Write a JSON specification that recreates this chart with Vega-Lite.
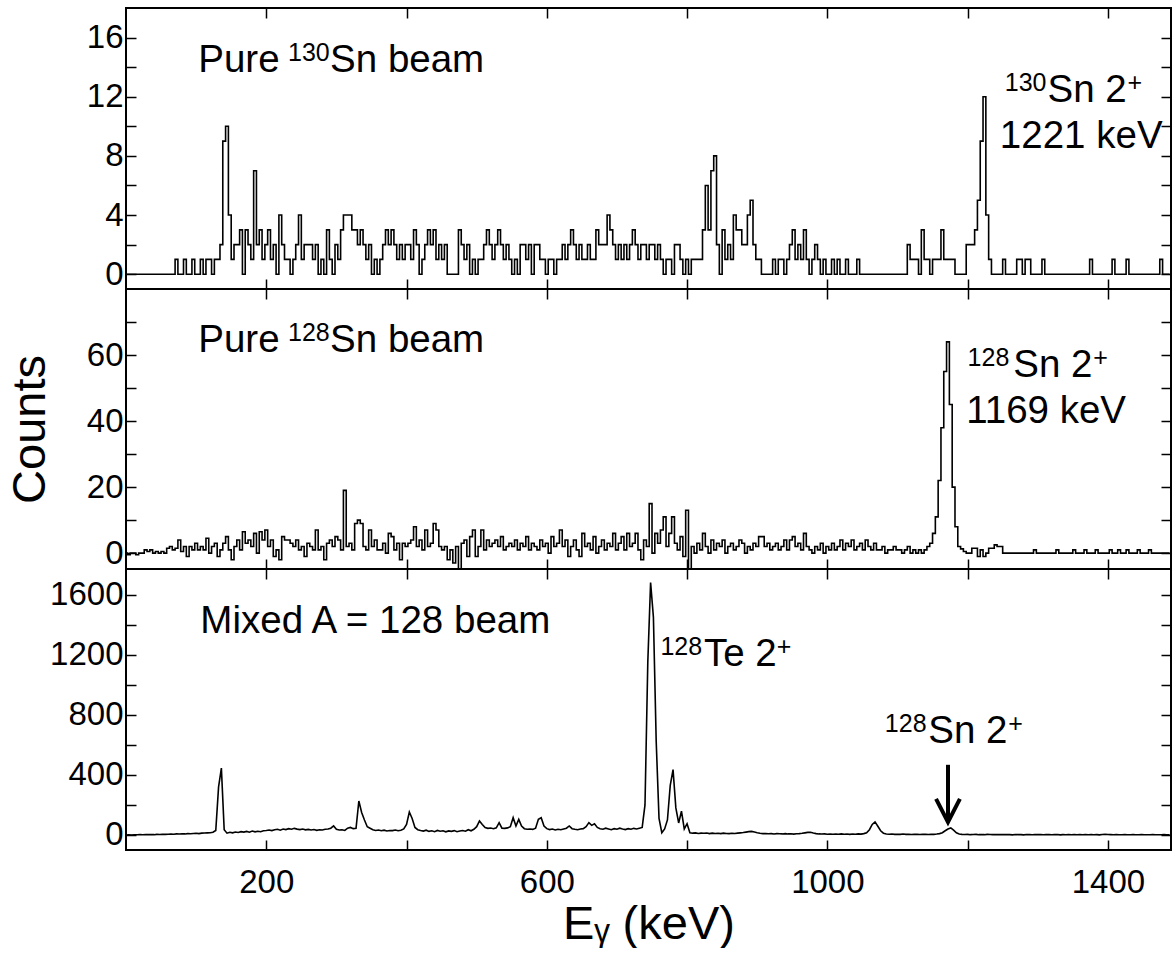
{
"$schema": "https://vega.github.io/schema/vega-lite/v6.json",
"background": "white",
"padding": {"left": 5, "top": 6, "right": 0, "bottom": 0},
"spacing": 0,
"bounds": "flush",
"config": {
  "view": {"stroke": "black", "strokeWidth": 2},
  "axis": {"domain": false, "grid": false, "tickColor": "black", "tickSize": -10, "tickWidth": 1.5,
           "labelFont": "Liberation Sans", "labelFontSize": 33, "labelColor": "black", "labelPadding": 9, "format": "d",
           "titleFont": "Liberation Sans", "titleFontSize": 47, "titleFontWeight": "normal", "titleColor": "black"},
  "axisY": {"labelPadding": 13},
  "text": {"font": "Liberation Sans", "color": "black", "align": "left", "baseline": "alphabetic"}
},
"datasets": {
"top": [
{"e":0,"c":0},{"e":4,"c":0},{"e":8,"c":0},{"e":12,"c":0},{"e":16,"c":0},{"e":20,"c":0},{"e":24,"c":0},{"e":28,"c":0},{"e":32,"c":0},{"e":36,"c":0},{"e":40,"c":0},{"e":44,"c":0},{"e":48,"c":0},{"e":52,"c":0},{"e":56,"c":0},{"e":60,"c":0},{"e":64,"c":0},{"e":68,"c":0},
{"e":72,"c":1},{"e":76,"c":0},{"e":80,"c":0},{"e":84,"c":1},{"e":88,"c":0},{"e":92,"c":0},{"e":96,"c":1},{"e":100,"c":0},{"e":104,"c":0},{"e":108,"c":1},{"e":112,"c":0},{"e":116,"c":1},{"e":120,"c":1},{"e":124,"c":0},{"e":128,"c":1},{"e":132,"c":1},{"e":136,"c":2},{"e":140,"c":9},{"e":144,"c":10},{"e":148,"c":4},{"e":152,"c":1},{"e":156,"c":2},{"e":160,"c":2},{"e":164,"c":3},{"e":168,"c":0},{"e":172,"c":3},{"e":176,"c":2},{"e":180,"c":1},{"e":184,"c":7},{"e":188,"c":2},{"e":192,"c":3},{"e":196,"c":1},{"e":200,"c":2},{"e":204,"c":3},{"e":208,"c":1},{"e":212,"c":2},{"e":216,"c":0},{"e":220,"c":4},{"e":224,"c":2},{"e":228,"c":1},{"e":232,"c":1},{"e":236,"c":0},{"e":240,"c":1},{"e":244,"c":2},{"e":248,"c":4},{"e":252,"c":1},{"e":256,"c":2},{"e":260,"c":2},{"e":264,"c":2},{"e":268,"c":1},{"e":272,"c":2},{"e":276,"c":0},{"e":280,"c":1},{"e":284,"c":0},{"e":288,"c":3},{"e":292,"c":1},{"e":296,"c":0},{"e":300,"c":2},{"e":304,"c":1},{"e":308,"c":3},{"e":312,"c":4},{"e":316,"c":4},{"e":320,"c":4},{"e":324,"c":3},{"e":328,"c":3},{"e":332,"c":2},{"e":336,"c":3},{"e":340,"c":2},{"e":344,"c":1},{"e":348,"c":2},{"e":352,"c":0},{"e":356,"c":1},{"e":360,"c":0},{"e":364,"c":1},{"e":368,"c":2},{"e":372,"c":3},{"e":376,"c":2},{"e":380,"c":3},{"e":384,"c":2},{"e":388,"c":1},{"e":392,"c":2},{"e":396,"c":1},{"e":400,"c":2},{"e":404,"c":2},{"e":408,"c":1},{"e":412,"c":3},{"e":416,"c":2},{"e":420,"c":0},{"e":424,"c":1},{"e":428,"c":2},{"e":432,"c":3},{"e":436,"c":2},{"e":440,"c":3},{"e":444,"c":1},{"e":448,"c":2},{"e":452,"c":1},{"e":456,"c":2},{"e":460,"c":0},{"e":464,"c":0},{"e":468,"c":0},{"e":472,"c":0},{"e":476,"c":3},{"e":480,"c":2},{"e":484,"c":1},{"e":488,"c":2},{"e":492,"c":0},{"e":496,"c":1},{"e":500,"c":0},{"e":504,"c":1},{"e":508,"c":1},{"e":512,"c":2},{"e":516,"c":3},{"e":520,"c":2},{"e":524,"c":1},{"e":528,"c":2},{"e":532,"c":3},{"e":536,"c":2},{"e":540,"c":1},{"e":544,"c":2},{"e":548,"c":1},{"e":552,"c":0},{"e":556,"c":1},{"e":560,"c":0},{"e":564,"c":2},{"e":568,"c":2},{"e":572,"c":1},{"e":576,"c":2},{"e":580,"c":0},{"e":584,"c":2},{"e":588,"c":2},{"e":592,"c":1},{"e":596,"c":1},{"e":600,"c":0},{"e":604,"c":1},{"e":608,"c":1},{"e":612,"c":0},{"e":616,"c":1},{"e":620,"c":1},{"e":624,"c":2},{"e":628,"c":1},{"e":632,"c":2},{"e":636,"c":3},{"e":640,"c":2},{"e":644,"c":1},{"e":648,"c":2},{"e":652,"c":1},{"e":656,"c":1},{"e":660,"c":2},{"e":664,"c":1},{"e":668,"c":1},{"e":672,"c":3},{"e":676,"c":2},{"e":680,"c":2},{"e":684,"c":2},{"e":688,"c":4},{"e":692,"c":3},{"e":696,"c":2},{"e":700,"c":1},{"e":704,"c":2},{"e":708,"c":1},{"e":712,"c":2},{"e":716,"c":1},{"e":720,"c":2},{"e":724,"c":3},{"e":728,"c":2},{"e":732,"c":1},{"e":736,"c":2},{"e":740,"c":2},{"e":744,"c":1},{"e":748,"c":2},{"e":752,"c":2},{"e":756,"c":1},{"e":760,"c":2},{"e":764,"c":1},{"e":768,"c":0},{"e":772,"c":1},{"e":776,"c":1},{"e":780,"c":0},{"e":784,"c":2},{"e":788,"c":2},{"e":792,"c":1},{"e":796,"c":0},{"e":800,"c":1},{"e":804,"c":0},{"e":808,"c":1},{"e":812,"c":1},{"e":816,"c":1},{"e":820,"c":1},{"e":824,"c":3},{"e":828,"c":6},{"e":832,"c":3},{"e":836,"c":7},{"e":840,"c":8},{"e":844,"c":2},{"e":848,"c":0},{"e":852,"c":3},{"e":856,"c":1},{"e":860,"c":2},{"e":864,"c":1},{"e":868,"c":4},{"e":872,"c":3},{"e":876,"c":3},{"e":880,"c":2},{"e":884,"c":2},{"e":888,"c":4},{"e":892,"c":5},{"e":896,"c":2},{"e":900,"c":1},{"e":904,"c":1},{"e":908,"c":0},{"e":912,"c":0},{"e":916,"c":0},{"e":920,"c":0},{"e":924,"c":1},{"e":928,"c":0},{"e":932,"c":1},{"e":936,"c":1},{"e":940,"c":0},{"e":944,"c":1},{"e":948,"c":2},{"e":952,"c":3},{"e":956,"c":1},{"e":960,"c":2},{"e":964,"c":1},{"e":968,"c":3},{"e":972,"c":1},{"e":976,"c":0},{"e":980,"c":1},{"e":984,"c":2},{"e":988,"c":1},{"e":992,"c":0},{"e":996,"c":1},{"e":1000,"c":0},{"e":1004,"c":0},{"e":1008,"c":1},{"e":1012,"c":0},{"e":1016,"c":1},{"e":1020,"c":0},{"e":1024,"c":0},{"e":1028,"c":1},{"e":1032,"c":0},{"e":1036,"c":0},{"e":1040,"c":0},{"e":1044,"c":1},{"e":1048,"c":0},{"e":1052,"c":0},{"e":1056,"c":0},{"e":1060,"c":0},{"e":1064,"c":0},{"e":1068,"c":0},{"e":1072,"c":0},{"e":1076,"c":0},{"e":1080,"c":0},{"e":1084,"c":0},{"e":1088,"c":0},{"e":1092,"c":0},{"e":1096,"c":0},{"e":1100,"c":0},{"e":1104,"c":0},{"e":1108,"c":0},{"e":1112,"c":0},{"e":1116,"c":2},{"e":1120,"c":1},{"e":1124,"c":1},{"e":1128,"c":1},{"e":1132,"c":0},{"e":1136,"c":3},{"e":1140,"c":1},{"e":1144,"c":1},{"e":1148,"c":0},{"e":1152,"c":1},{"e":1156,"c":1},{"e":1160,"c":1},{"e":1164,"c":3},{"e":1168,"c":1},{"e":1172,"c":1},{"e":1176,"c":1},{"e":1180,"c":1},{"e":1184,"c":0},{"e":1188,"c":0},{"e":1192,"c":0},{"e":1196,"c":0},{"e":1200,"c":2},{"e":1204,"c":2},{"e":1208,"c":2},{"e":1212,"c":3},{"e":1216,"c":5},{"e":1220,"c":9},{"e":1224,"c":12},{"e":1228,"c":4},{"e":1232,"c":1},{"e":1236,"c":0},{"e":1240,"c":0},{"e":1244,"c":0},{"e":1248,"c":0},{"e":1252,"c":1},{"e":1256,"c":0},{"e":1260,"c":0},{"e":1264,"c":0},{"e":1268,"c":0},{"e":1272,"c":1},{"e":1276,"c":1},{"e":1280,"c":0},{"e":1284,"c":1},{"e":1288,"c":1},{"e":1292,"c":0},{"e":1296,"c":0},{"e":1300,"c":0},{"e":1304,"c":0},{"e":1308,"c":1},{"e":1312,"c":0},{"e":1316,"c":0},{"e":1320,"c":0},{"e":1324,"c":0},{"e":1328,"c":0},{"e":1332,"c":0},{"e":1336,"c":0},{"e":1340,"c":0},{"e":1344,"c":0},{"e":1348,"c":0},{"e":1352,"c":0},{"e":1356,"c":0},{"e":1360,"c":0},{"e":1364,"c":0},{"e":1368,"c":0},{"e":1372,"c":0},{"e":1376,"c":1},{"e":1380,"c":0},{"e":1384,"c":0},{"e":1388,"c":0},{"e":1392,"c":0},{"e":1396,"c":0},{"e":1400,"c":0},{"e":1404,"c":0},{"e":1408,"c":1},{"e":1412,"c":0},{"e":1416,"c":0},{"e":1420,"c":0},{"e":1424,"c":0},{"e":1428,"c":1},{"e":1432,"c":0},{"e":1436,"c":0},{"e":1440,"c":0},{"e":1444,"c":0},{"e":1448,"c":0},{"e":1452,"c":0},{"e":1456,"c":0},{"e":1460,"c":0},{"e":1464,"c":0},{"e":1468,"c":0},{"e":1472,"c":0},{"e":1476,"c":1},{"e":1480,"c":0},{"e":1484,"c":0},{"e":1488,"c":0}
],
"mid": [
{"e":0,"c":0},{"e":4,"c":-0.5},{"e":8,"c":0},{"e":12,"c":0},{"e":16,"c":-0.5},{"e":20,"c":0},{"e":24,"c":0},{"e":28,"c":1},{"e":32,"c":0.5},{"e":36,"c":1},{"e":40,"c":0},{"e":44,"c":0.5},{"e":48,"c":0},{"e":52,"c":0.5},{"e":56,"c":0},{"e":60,"c":1.5},{"e":64,"c":2},{"e":68,"c":1},{"e":72,"c":1.5},{"e":76,"c":4},{"e":80,"c":0.5},{"e":84,"c":2},{"e":88,"c":-1},{"e":92,"c":2},{"e":96,"c":1},{"e":100,"c":3},{"e":104,"c":1},{"e":108,"c":2},{"e":112,"c":1},{"e":116,"c":4.5},{"e":120,"c":0},{"e":124,"c":2},{"e":128,"c":3},{"e":132,"c":-1},{"e":136,"c":1},{"e":140,"c":3},{"e":144,"c":5},{"e":148,"c":1},{"e":152,"c":-2},{"e":156,"c":2},{"e":160,"c":4},{"e":164,"c":1},{"e":168,"c":6.5},{"e":172,"c":3},{"e":176,"c":4},{"e":180,"c":2},{"e":184,"c":6},{"e":188,"c":0},{"e":192,"c":6.5},{"e":196,"c":4},{"e":200,"c":7},{"e":204,"c":2},{"e":208,"c":4},{"e":212,"c":-1},{"e":216,"c":1},{"e":220,"c":-2},{"e":224,"c":5},{"e":228,"c":4},{"e":232,"c":4},{"e":236,"c":3},{"e":240,"c":2},{"e":244,"c":4},{"e":248,"c":1},{"e":252,"c":2},{"e":256,"c":-1},{"e":260,"c":3},{"e":264,"c":2},{"e":268,"c":1},{"e":272,"c":7},{"e":276,"c":1},{"e":280,"c":2},{"e":284,"c":-2},{"e":288,"c":3},{"e":292,"c":4},{"e":296,"c":2},{"e":300,"c":5},{"e":304,"c":4},{"e":308,"c":1},{"e":312,"c":19},{"e":316,"c":2},{"e":320,"c":3},{"e":324,"c":1},{"e":328,"c":9},{"e":332,"c":10},{"e":336,"c":9},{"e":340,"c":2},{"e":344,"c":1},{"e":348,"c":7},{"e":352,"c":2},{"e":356,"c":4},{"e":360,"c":1},{"e":364,"c":1},{"e":368,"c":3},{"e":372,"c":0},{"e":376,"c":6},{"e":380,"c":5},{"e":384,"c":1},{"e":388,"c":3},{"e":392,"c":-2},{"e":396,"c":3},{"e":400,"c":2},{"e":404,"c":3},{"e":408,"c":4},{"e":412,"c":8},{"e":416,"c":2},{"e":420,"c":4},{"e":424,"c":1},{"e":428,"c":7},{"e":432,"c":2},{"e":436,"c":3},{"e":440,"c":9},{"e":444,"c":7},{"e":448,"c":2},{"e":452,"c":1},{"e":456,"c":2},{"e":460,"c":-2},{"e":464,"c":1},{"e":468,"c":-3},{"e":472,"c":2},{"e":476,"c":-4.8},{"e":480,"c":3},{"e":484,"c":4},{"e":488,"c":-1},{"e":492,"c":5},{"e":496,"c":7},{"e":500,"c":-1},{"e":504,"c":2},{"e":508,"c":7},{"e":512,"c":1},{"e":516,"c":4},{"e":520,"c":2},{"e":524,"c":3},{"e":528,"c":4},{"e":532,"c":2},{"e":536,"c":5},{"e":540,"c":1},{"e":544,"c":2},{"e":548,"c":3},{"e":552,"c":2},{"e":556,"c":4},{"e":560,"c":1},{"e":564,"c":3},{"e":568,"c":2},{"e":572,"c":5},{"e":576,"c":1},{"e":580,"c":3},{"e":584,"c":2},{"e":588,"c":1},{"e":592,"c":4},{"e":596,"c":2},{"e":600,"c":3},{"e":604,"c":0},{"e":608,"c":5},{"e":612,"c":2},{"e":616,"c":3},{"e":620,"c":7},{"e":624,"c":2},{"e":628,"c":4},{"e":632,"c":-1},{"e":636,"c":2},{"e":640,"c":4},{"e":644,"c":1},{"e":648,"c":-1},{"e":652,"c":6},{"e":656,"c":2},{"e":660,"c":3},{"e":664,"c":1},{"e":668,"c":5},{"e":672,"c":0},{"e":676,"c":2},{"e":680,"c":4},{"e":684,"c":1},{"e":688,"c":3},{"e":692,"c":2},{"e":696,"c":6},{"e":700,"c":1},{"e":704,"c":3},{"e":708,"c":5},{"e":712,"c":1},{"e":716,"c":6},{"e":720,"c":2},{"e":724,"c":3},{"e":728,"c":6},{"e":732,"c":1},{"e":736,"c":-2},{"e":740,"c":4},{"e":744,"c":2},{"e":748,"c":15},{"e":752,"c":0},{"e":756,"c":6},{"e":760,"c":3},{"e":764,"c":7},{"e":768,"c":11},{"e":772,"c":2},{"e":776,"c":6},{"e":780,"c":11},{"e":784,"c":3},{"e":788,"c":1},{"e":792,"c":5},{"e":796,"c":-1},{"e":800,"c":13},{"e":804,"c":-4.8},{"e":808,"c":2},{"e":812,"c":0},{"e":816,"c":3},{"e":820,"c":1},{"e":824,"c":6},{"e":828,"c":2},{"e":832,"c":0},{"e":836,"c":4},{"e":840,"c":1},{"e":844,"c":3},{"e":848,"c":2},{"e":852,"c":4},{"e":856,"c":0},{"e":860,"c":2},{"e":864,"c":3},{"e":868,"c":1},{"e":872,"c":2},{"e":876,"c":4},{"e":880,"c":3},{"e":884,"c":0},{"e":888,"c":2},{"e":892,"c":1},{"e":896,"c":3},{"e":900,"c":2},{"e":904,"c":5},{"e":908,"c":5},{"e":912,"c":2},{"e":916,"c":3},{"e":920,"c":1},{"e":924,"c":2},{"e":928,"c":3},{"e":932,"c":1},{"e":936,"c":2},{"e":940,"c":4},{"e":944,"c":1},{"e":948,"c":4},{"e":952,"c":5},{"e":956,"c":2},{"e":960,"c":3},{"e":964,"c":1},{"e":968,"c":6},{"e":972,"c":2},{"e":976,"c":1},{"e":980,"c":0},{"e":984,"c":2},{"e":988,"c":1},{"e":992,"c":3},{"e":996,"c":0},{"e":1000,"c":2},{"e":1004,"c":1},{"e":1008,"c":3},{"e":1012,"c":1},{"e":1016,"c":2},{"e":1020,"c":4},{"e":1024,"c":1},{"e":1028,"c":3},{"e":1032,"c":2},{"e":1036,"c":4},{"e":1040,"c":1},{"e":1044,"c":2},{"e":1048,"c":3},{"e":1052,"c":1},{"e":1056,"c":4},{"e":1060,"c":2},{"e":1064,"c":1},{"e":1068,"c":3},{"e":1072,"c":1},{"e":1076,"c":1},{"e":1080,"c":2},{"e":1084,"c":0},{"e":1088,"c":1},{"e":1092,"c":1},{"e":1096,"c":2},{"e":1100,"c":1},{"e":1104,"c":1},{"e":1108,"c":0},{"e":1112,"c":1},{"e":1116,"c":2},{"e":1120,"c":0},{"e":1124,"c":1},{"e":1128,"c":0},{"e":1132,"c":1},{"e":1136,"c":0},{"e":1140,"c":1},{"e":1144,"c":2},{"e":1148,"c":3},{"e":1152,"c":6},{"e":1156,"c":11},{"e":1160,"c":22},{"e":1164,"c":38},{"e":1168,"c":55},{"e":1172,"c":64},{"e":1176,"c":45},{"e":1180,"c":20},{"e":1184,"c":8},{"e":1188,"c":2},{"e":1192,"c":1.3},{"e":1196,"c":0.5},{"e":1200,"c":0},{"e":1204,"c":0},{"e":1208,"c":1.5},{"e":1212,"c":1.5},{"e":1216,"c":-1},{"e":1220,"c":1},{"e":1224,"c":-1},{"e":1228,"c":0},{"e":1232,"c":1.5},{"e":1236,"c":1.5},{"e":1240,"c":2.5},{"e":1244,"c":2},{"e":1248,"c":2},{"e":1252,"c":0},{"e":1256,"c":0},{"e":1260,"c":0},{"e":1264,"c":0},{"e":1268,"c":0},{"e":1272,"c":0},{"e":1276,"c":0},{"e":1280,"c":0},{"e":1284,"c":0},{"e":1288,"c":0},{"e":1292,"c":0},{"e":1296,"c":1},{"e":1300,"c":0},{"e":1304,"c":0},{"e":1308,"c":0},{"e":1312,"c":0},{"e":1316,"c":0},{"e":1320,"c":0},{"e":1324,"c":0},{"e":1328,"c":1},{"e":1332,"c":0},{"e":1336,"c":0},{"e":1340,"c":0},{"e":1344,"c":0},{"e":1348,"c":0},{"e":1352,"c":1},{"e":1356,"c":0},{"e":1360,"c":0},{"e":1364,"c":0},{"e":1368,"c":1},{"e":1372,"c":0},{"e":1376,"c":0},{"e":1380,"c":0},{"e":1384,"c":1},{"e":1388,"c":0},{"e":1392,"c":0},{"e":1396,"c":0},{"e":1400,"c":0},{"e":1404,"c":1},{"e":1408,"c":0},{"e":1412,"c":0},{"e":1416,"c":1},{"e":1420,"c":0},{"e":1424,"c":0},{"e":1428,"c":1},{"e":1432,"c":0},{"e":1436,"c":0},{"e":1440,"c":0},{"e":1444,"c":1},{"e":1448,"c":0},{"e":1452,"c":0},{"e":1456,"c":0},{"e":1460,"c":1},{"e":1464,"c":0},{"e":1468,"c":0},{"e":1472,"c":0},{"e":1476,"c":0},{"e":1480,"c":0},{"e":1484,"c":0},{"e":1488,"c":0}
],
"bot": [
{"e":0,"c":0},{"e":4,"c":1},{"e":8,"c":0},{"e":12,"c":1},{"e":16,"c":1},{"e":20,"c":2},{"e":24,"c":1},{"e":28,"c":2},{"e":32,"c":2},{"e":36,"c":3},{"e":40,"c":2},{"e":44,"c":4},{"e":48,"c":3},{"e":52,"c":5},{"e":56,"c":4},{"e":60,"c":5},{"e":64,"c":6},{"e":68,"c":5},{"e":72,"c":7},{"e":76,"c":6},{"e":80,"c":8},{"e":84,"c":7},{"e":88,"c":9},{"e":92,"c":8},{"e":96,"c":10},{"e":100,"c":11},{"e":104,"c":9},{"e":108,"c":12},{"e":112,"c":13},{"e":116,"c":14},{"e":120,"c":15},{"e":124,"c":18},{"e":128,"c":30},{"e":132,"c":320},{"e":136,"c":445},{"e":140,"c":35},{"e":144,"c":12},{"e":148,"c":18},{"e":152,"c":14},{"e":156,"c":20},{"e":160,"c":17},{"e":164,"c":22},{"e":168,"c":19},{"e":172,"c":24},{"e":176,"c":18},{"e":180,"c":26},{"e":184,"c":21},{"e":188,"c":25},{"e":192,"c":22},{"e":196,"c":28},{"e":200,"c":30},{"e":204,"c":33},{"e":208,"c":29},{"e":212,"c":35},{"e":216,"c":38},{"e":220,"c":32},{"e":224,"c":40},{"e":228,"c":36},{"e":232,"c":42},{"e":236,"c":38},{"e":240,"c":44},{"e":244,"c":39},{"e":248,"c":36},{"e":252,"c":40},{"e":256,"c":34},{"e":260,"c":37},{"e":264,"c":33},{"e":268,"c":36},{"e":272,"c":31},{"e":276,"c":35},{"e":280,"c":33},{"e":284,"c":38},{"e":288,"c":40},{"e":292,"c":45},{"e":296,"c":60},{"e":300,"c":38},{"e":304,"c":33},{"e":308,"c":35},{"e":312,"c":30},{"e":316,"c":45},{"e":320,"c":50},{"e":324,"c":42},{"e":328,"c":45},{"e":332,"c":226},{"e":336,"c":150},{"e":340,"c":100},{"e":344,"c":55},{"e":348,"c":45},{"e":352,"c":35},{"e":356,"c":30},{"e":360,"c":33},{"e":364,"c":28},{"e":368,"c":32},{"e":372,"c":27},{"e":376,"c":30},{"e":380,"c":29},{"e":384,"c":33},{"e":388,"c":28},{"e":392,"c":31},{"e":396,"c":40},{"e":400,"c":70},{"e":404,"c":153},{"e":408,"c":110},{"e":412,"c":50},{"e":416,"c":35},{"e":420,"c":30},{"e":424,"c":26},{"e":428,"c":32},{"e":432,"c":24},{"e":436,"c":28},{"e":440,"c":22},{"e":444,"c":30},{"e":448,"c":25},{"e":452,"c":28},{"e":456,"c":21},{"e":460,"c":27},{"e":464,"c":24},{"e":468,"c":29},{"e":472,"c":22},{"e":476,"c":26},{"e":480,"c":30},{"e":484,"c":25},{"e":488,"c":35},{"e":492,"c":28},{"e":496,"c":38},{"e":500,"c":55},{"e":504,"c":93},{"e":508,"c":70},{"e":512,"c":49},{"e":516,"c":44},{"e":520,"c":46},{"e":524,"c":42},{"e":528,"c":48},{"e":532,"c":82},{"e":536,"c":45},{"e":540,"c":44},{"e":544,"c":47},{"e":548,"c":55},{"e":552,"c":115},{"e":556,"c":60},{"e":560,"c":104},{"e":564,"c":60},{"e":568,"c":42},{"e":572,"c":38},{"e":576,"c":40},{"e":580,"c":37},{"e":584,"c":45},{"e":588,"c":104},{"e":592,"c":115},{"e":596,"c":60},{"e":600,"c":42},{"e":604,"c":36},{"e":608,"c":40},{"e":612,"c":33},{"e":616,"c":38},{"e":620,"c":35},{"e":624,"c":40},{"e":628,"c":45},{"e":632,"c":60},{"e":636,"c":42},{"e":640,"c":38},{"e":644,"c":35},{"e":648,"c":40},{"e":652,"c":42},{"e":656,"c":55},{"e":660,"c":82},{"e":664,"c":64},{"e":668,"c":75},{"e":672,"c":50},{"e":676,"c":42},{"e":680,"c":38},{"e":684,"c":45},{"e":688,"c":40},{"e":692,"c":35},{"e":696,"c":42},{"e":700,"c":38},{"e":704,"c":45},{"e":708,"c":40},{"e":712,"c":36},{"e":716,"c":42},{"e":720,"c":38},{"e":724,"c":44},{"e":728,"c":40},{"e":732,"c":45},{"e":736,"c":50},{"e":740,"c":200},{"e":744,"c":1150},{"e":748,"c":1680},{"e":752,"c":1450},{"e":756,"c":620},{"e":760,"c":110},{"e":764,"c":15},{"e":768,"c":40},{"e":772,"c":100},{"e":776,"c":330},{"e":780,"c":435},{"e":784,"c":180},{"e":788,"c":80},{"e":792,"c":158},{"e":796,"c":40},{"e":800,"c":75},{"e":804,"c":15},{"e":808,"c":12},{"e":812,"c":14},{"e":816,"c":10},{"e":820,"c":12},{"e":824,"c":11},{"e":828,"c":13},{"e":832,"c":9},{"e":836,"c":12},{"e":840,"c":10},{"e":844,"c":11},{"e":848,"c":9},{"e":852,"c":12},{"e":856,"c":10},{"e":860,"c":9},{"e":864,"c":11},{"e":868,"c":10},{"e":872,"c":12},{"e":876,"c":14},{"e":880,"c":16},{"e":884,"c":19},{"e":888,"c":22},{"e":892,"c":24},{"e":896,"c":20},{"e":900,"c":15},{"e":904,"c":11},{"e":908,"c":9},{"e":912,"c":10},{"e":916,"c":8},{"e":920,"c":9},{"e":924,"c":7},{"e":928,"c":9},{"e":932,"c":8},{"e":936,"c":7},{"e":940,"c":9},{"e":944,"c":7},{"e":948,"c":8},{"e":952,"c":6},{"e":956,"c":8},{"e":960,"c":9},{"e":964,"c":11},{"e":968,"c":14},{"e":972,"c":17},{"e":976,"c":18},{"e":980,"c":13},{"e":984,"c":9},{"e":988,"c":7},{"e":992,"c":6},{"e":996,"c":7},{"e":1000,"c":5},{"e":1004,"c":6},{"e":1008,"c":5},{"e":1012,"c":6},{"e":1016,"c":5},{"e":1020,"c":7},{"e":1024,"c":5},{"e":1028,"c":6},{"e":1032,"c":4},{"e":1036,"c":6},{"e":1040,"c":5},{"e":1044,"c":7},{"e":1048,"c":6},{"e":1052,"c":9},{"e":1056,"c":15},{"e":1060,"c":35},{"e":1064,"c":70},{"e":1068,"c":87},{"e":1072,"c":58},{"e":1076,"c":28},{"e":1080,"c":12},{"e":1084,"c":7},{"e":1088,"c":5},{"e":1092,"c":6},{"e":1096,"c":4},{"e":1100,"c":5},{"e":1104,"c":4},{"e":1108,"c":6},{"e":1112,"c":4},{"e":1116,"c":5},{"e":1120,"c":3},{"e":1124,"c":5},{"e":1128,"c":4},{"e":1132,"c":3},{"e":1136,"c":5},{"e":1140,"c":4},{"e":1144,"c":3},{"e":1148,"c":5},{"e":1152,"c":4},{"e":1156,"c":6},{"e":1160,"c":9},{"e":1164,"c":15},{"e":1168,"c":28},{"e":1172,"c":40},{"e":1176,"c":47},{"e":1180,"c":32},{"e":1184,"c":15},{"e":1188,"c":7},{"e":1192,"c":4},{"e":1196,"c":3},{"e":1200,"c":4},{"e":1204,"c":2},{"e":1208,"c":3},{"e":1212,"c":4},{"e":1216,"c":2},{"e":1220,"c":3},{"e":1224,"c":2},{"e":1228,"c":4},{"e":1232,"c":3},{"e":1236,"c":2},{"e":1240,"c":3},{"e":1244,"c":2},{"e":1248,"c":3},{"e":1252,"c":2},{"e":1256,"c":3},{"e":1260,"c":2},{"e":1264,"c":1},{"e":1268,"c":3},{"e":1272,"c":2},{"e":1276,"c":2},{"e":1280,"c":1},{"e":1284,"c":3},{"e":1288,"c":2},{"e":1292,"c":1},{"e":1296,"c":2},{"e":1300,"c":3},{"e":1304,"c":2},{"e":1308,"c":1},{"e":1312,"c":2},{"e":1316,"c":2},{"e":1320,"c":1},{"e":1324,"c":2},{"e":1328,"c":3},{"e":1332,"c":1},{"e":1336,"c":2},{"e":1340,"c":1},{"e":1344,"c":2},{"e":1348,"c":1},{"e":1352,"c":2},{"e":1356,"c":1},{"e":1360,"c":2},{"e":1364,"c":1},{"e":1368,"c":2},{"e":1372,"c":1},{"e":1376,"c":2},{"e":1380,"c":1},{"e":1384,"c":2},{"e":1388,"c":1},{"e":1392,"c":3},{"e":1396,"c":4},{"e":1400,"c":3},{"e":1404,"c":2},{"e":1408,"c":1},{"e":1412,"c":2},{"e":1416,"c":1},{"e":1420,"c":1},{"e":1424,"c":2},{"e":1428,"c":1},{"e":1432,"c":1},{"e":1436,"c":2},{"e":1440,"c":1},{"e":1444,"c":1},{"e":1448,"c":2},{"e":1452,"c":1},{"e":1456,"c":1},{"e":1460,"c":1},{"e":1464,"c":2},{"e":1468,"c":1},{"e":1472,"c":1},{"e":1476,"c":1},{"e":1480,"c":2},{"e":1484,"c":1},{"e":1488,"c":1}
]
},
"vconcat": [
{
  "width": 1045, "height": 281,
  "layer": [
    {"data": {"name": "top"},
     "mark": {"type": "line", "interpolate": "step", "color": "black", "strokeWidth": 1.6, "clip": true},
     "encoding": {
       "x": {"field": "e", "type": "quantitative", "scale": {"domain": [0, 1490], "nice": false, "zero": false},
             "axis": {"orient": "bottom", "values": [200,400,600,800,1000,1200,1400], "labels": false, "title": null}},
       "y": {"field": "c", "type": "quantitative", "scale": {"domain": [-1, 18], "nice": false, "zero": false},
             "axis": {"values": [0,2,4,6,8,10,12,14,16], "labelExpr": "datum.value % 4 == 0 ? datum.label : ''", "title": null}}
     }},
    {"data": {"values": [{"t":"Pure","x":103,"y":13.7},{"t":"Sn beam","x":291,"y":13.7},{"t":"Sn 2","x":1314,"y":11.66},{"t":"1221 keV","x":1246,"y":8.54}]},
     "mark": {"type": "text", "fontSize": 38.5},
     "encoding": {
       "x": {"field": "x", "type": "quantitative", "scale": {"domain": [0, 1490], "nice": false, "zero": false},
             "axis": {"orient": "top", "values": [200,400,600,800,1000,1200,1400], "labels": false, "title": null}},
       "y": {"field": "y", "type": "quantitative", "scale": {"domain": [-1, 18], "nice": false, "zero": false},
             "axis": {"orient": "right", "values": [0,2,4,6,8,10,12,14,16], "labels": false, "title": null}},
       "text": {"field": "t"}
     }},
    {"data": {"values": [{"t":"130","x":231,"y":14.45},{"t":"130","x":1253,"y":12.4},{"t":"+","x":1428,"y":12.4}]},
     "mark": {"type": "text", "fontSize": 25},
     "encoding": {
       "x": {"field": "x", "type": "quantitative", "axis": null},
       "y": {"field": "y", "type": "quantitative", "axis": null},
       "text": {"field": "t"}
     }}
  ],
  "resolve": {"axis": {"x": "independent", "y": "independent"}}
},
{
  "width": 1045, "height": 280,
  "layer": [
    {"data": {"name": "mid"},
     "mark": {"type": "line", "interpolate": "step", "color": "black", "strokeWidth": 1.6, "clip": true},
     "encoding": {
       "x": {"field": "e", "type": "quantitative", "scale": {"domain": [0, 1490], "nice": false, "zero": false},
             "axis": {"orient": "bottom", "values": [200,400,600,800,1000,1200,1400], "labels": false, "title": null}},
       "y": {"field": "c", "type": "quantitative", "scale": {"domain": [-4.8, 80], "nice": false, "zero": false},
             "axis": {"values": [0,10,20,30,40,50,60,70], "labelExpr": "datum.value % 20 == 0 ? datum.label : ''", "title": "Counts", "titlePadding": 32}}
     }},
    {"data": {"values": [{"t":"Pure","x":103,"y":61},{"t":"Sn beam","x":291,"y":61},{"t":"Sn 2","x":1265,"y":53.4},{"t":"1169 keV","x":1198,"y":39.5}]},
     "mark": {"type": "text", "fontSize": 38.5},
     "encoding": {
       "x": {"field": "x", "type": "quantitative", "scale": {"domain": [0, 1490], "nice": false, "zero": false},
             "axis": {"orient": "top", "values": [200,400,600,800,1000,1200,1400], "labels": false, "title": null}},
       "y": {"field": "y", "type": "quantitative", "scale": {"domain": [-4.8, 80], "nice": false, "zero": false},
             "axis": {"orient": "right", "values": [0,10,20,30,40,50,60,70], "labels": false, "title": null}},
       "text": {"field": "t"}
     }},
    {"data": {"values": [{"t":"128","x":231,"y":64.3},{"t":"128","x":1200,"y":56.8},{"t":"+","x":1379,"y":56.8}]},
     "mark": {"type": "text", "fontSize": 25},
     "encoding": {
       "x": {"field": "x", "type": "quantitative", "axis": null},
       "y": {"field": "y", "type": "quantitative", "axis": null},
       "text": {"field": "t"}
     }}
  ],
  "resolve": {"axis": {"x": "independent", "y": "independent"}}
},
{
  "width": 1045, "height": 281,
  "layer": [
    {"data": {"name": "bot"},
     "mark": {"type": "line", "color": "black", "strokeWidth": 1.6, "clip": true},
     "encoding": {
       "x": {"field": "e", "type": "quantitative", "scale": {"domain": [0, 1490], "nice": false, "zero": false},
             "axis": {"orient": "bottom", "values": [200,400,600,800,1000,1200,1400], "labelExpr": "datum.value % 400 == 200 ? datum.label : ''", "title": "Eᵧ  (keV)", "labelPadding": 26, "titlePadding": 2}},
       "y": {"field": "c", "type": "quantitative", "scale": {"domain": [-100, 1770], "nice": false, "zero": false},
             "axis": {"values": [0,200,400,600,800,1000,1200,1400,1600], "labelExpr": "datum.value % 400 == 0 ? datum.label : ''", "title": null}}
     }},
    {"data": {"values": [{"t":"Mixed A = 128 beam","x":106,"y":1347},{"t":"Te 2","x":824,"y":1127},{"t":"Sn 2","x":1144,"y":613}]},
     "mark": {"type": "text", "fontSize": 38.5},
     "encoding": {
       "x": {"field": "x", "type": "quantitative", "scale": {"domain": [0, 1490], "nice": false, "zero": false},
             "axis": {"orient": "top", "values": [200,400,600,800,1000,1200,1400], "labels": false, "title": null}},
       "y": {"field": "y", "type": "quantitative", "scale": {"domain": [-100, 1770], "nice": false, "zero": false},
             "axis": {"orient": "right", "values": [0,200,400,600,800,1000,1200,1400,1600], "labels": false, "title": null}},
       "text": {"field": "t"}
     }},
    {"data": {"values": [{"t":"128","x":762,"y":1200},{"t":"+","x":928,"y":1200},{"t":"128","x":1082,"y":687},{"t":"+","x":1258,"y":687}]},
     "mark": {"type": "text", "fontSize": 25},
     "encoding": {
       "x": {"field": "x", "type": "quantitative", "axis": null},
       "y": {"field": "y", "type": "quantitative", "axis": null},
       "text": {"field": "t"}
     }},
    {"data": {"values": [{"x":1172,"y":467,"y2":95}]},
     "mark": {"type": "rule", "color": "black", "strokeWidth": 4},
     "encoding": {
       "x": {"field": "x", "type": "quantitative", "axis": null},
       "y": {"field": "y", "type": "quantitative", "axis": null},
       "y2": {"field": "y2"}
     }},
    {"data": {"values": [{"o":1,"x":1155,"y":240},{"o":2,"x":1172,"y":85},{"o":3,"x":1189,"y":240}]},
     "mark": {"type": "line", "color": "black", "strokeWidth": 4, "strokeJoin": "miter"},
     "encoding": {
       "x": {"field": "x", "type": "quantitative", "axis": null},
       "y": {"field": "y", "type": "quantitative", "axis": null},
       "order": {"field": "o"}
     }}
  ],
  "resolve": {"axis": {"x": "independent", "y": "independent"}}
}
]
}
